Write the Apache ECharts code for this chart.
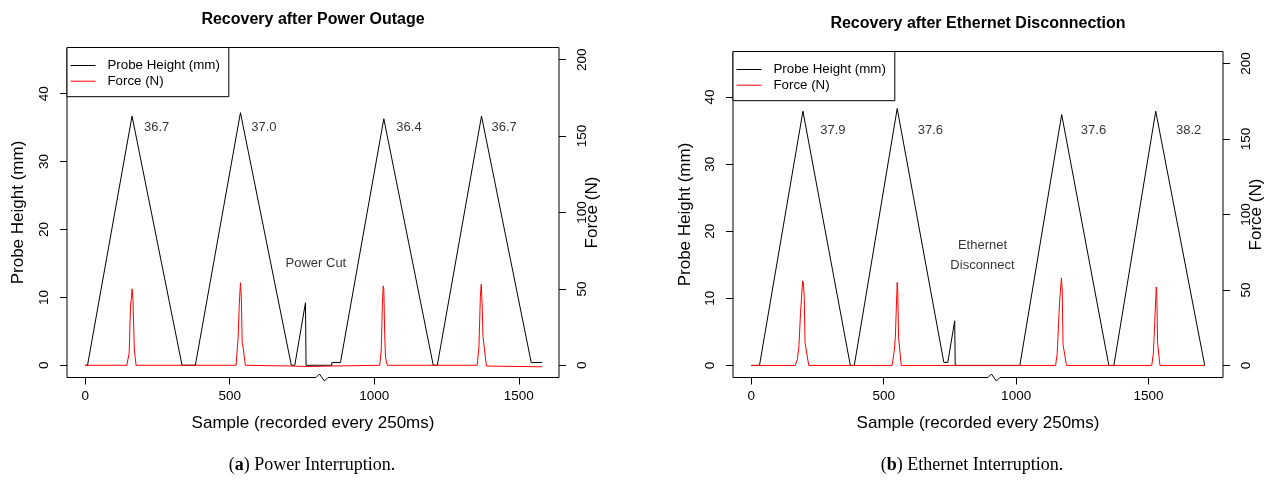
<!DOCTYPE html>
<html>
<head>
<meta charset="utf-8">
<title>Recovery after interruption</title>
<script src="https://cdn.jsdelivr.net/npm/echarts@6/dist/echarts.min.js"></script>
<style>
  html, body { margin: 0; padding: 0; background: #fff; }
  #chart { width: 1271px; height: 482px; }
</style>
</head>
<body>
<div id="chart"></div>
<script>
// (a) power interruption - probe height (mm) and force (N) against sample
var powerHeightX = [0, 8, 162, 335, 381, 537, 713, 725, 762, 764, 853, 853, 883, 1033, 1204, 1218, 1371, 1543, 1581];
var powerHeightY = [0, 0, 36.7, 0, 0, 37.2, 0, 0, 9.2, 0, 0, 0.4, 0.4, 36.3, 0, 0, 36.7, 0.4, 0.4];
var powerForceX = [0, 144, 152, 157, 160, 162, 165, 170, 176, 522, 529, 533, 537, 540, 543, 546, 554,
                   715, 770, 850, 1019, 1024, 1028, 1031, 1033, 1036, 1039, 1045,
                   1356, 1362, 1367, 1370, 1373, 1376, 1379, 1388, 1581];
var powerForceY = [0, 0, 8, 40, 44, 50, 44, 10, 0, 0, 18, 40, 54, 45, 15, 12, 0,
                   -0.5, -0.8, -0.5, 0, 10, 40, 52, 50, 20, 5, 0,
                   0, 12, 45, 53, 40, 19, 18, -0.5, -1];
var powerNoteX = [247, 618, 1120, 1449, 798];
var powerNoteY = [35, 35, 35, 35, 15];
var powerNoteText = ['36.7', '37.0', '36.4', '36.7', 'Power Cut'];
var powerBreakX = 819;

// (b) ethernet interruption
var etherHeightX = [0, 31, 195, 374, 389, 551, 727, 742, 768, 770, 1014, 1172, 1350, 1369, 1527, 1712];
var etherHeightY = [0, 0, 37.9, 0, 0, 38.3, 0.45, 0.45, 6.65, 0, 0, 37.4, 0, 0, 37.9, 0];
var etherForceX = [0, 166, 174, 180, 186, 194, 197, 200, 203, 207, 217,
                   532, 540, 544, 548, 551, 553, 556, 559, 566,
                   1149, 1155, 1158, 1164, 1171, 1174, 1177, 1180, 1190,
                   1512, 1518, 1521, 1526, 1529, 1531, 1534, 1537, 1543, 1712];
var etherForceY = [0, 0, 4, 13, 35, 56, 54, 45, 15, 14, 0,
                   0, 10, 19, 40, 55, 50, 19, 18, 0,
                   0, 8, 19, 42, 58, 50, 14, 13, 0,
                   0, 8, 19, 40, 52, 48, 15, 14, 0, 0];
var etherNoteX = [308, 676, 1292, 1651, 873];
var etherNoteY = [35, 35, 35, 35, 16.4];
var etherNoteText = ['37.9', '37.6', '37.6', '38.2', 'Ethernet\nDisconnect'];
var etherBreakX = 916;

var xTicks = [0, 500, 1000, 1500];
var heightTicks = [0, 10, 20, 30, 40];
var forceTicks = [0, 50, 100, 150, 200];
var heightRange = [-1.8, 46.8];
var forceRange = [-8, 208];
var powerXRange = [-63, 1639];
var etherXRange = [-69, 1781];

var FONT = 'Liberation Sans';

function zip(xs, ys) {
    var out = [];
    for (var i = 0; i < xs.length; i++) out.push([xs[i], ys[i]]);
    return out;
}

function notes(xs, ys, texts) {
    var out = [];
    for (var i = 0; i < xs.length; i++) out.push({ value: [xs[i], ys[i]], name: texts[i] });
    return out;
}

function plain(v) { return String(v); }

// zigzag drawn over the bottom frame, like plotrix axis.break
function breakItem(params, api) {
    var p = api.coord([api.value(0), api.value(1)]);
    var x = p[0], y = p[1];
    return {
        type: 'group',
        children: [
            { type: 'line', shape: { x1: x - 6, y1: y, x2: x + 6, y2: y }, style: { stroke: '#fff', lineWidth: 3 } },
            { type: 'polyline', shape: { points: [[x - 8, y], [x - 6, y], [x - 2.5, y - 3.5], [x + 2.5, y + 3.5], [x + 6, y], [x + 8, y]] },
              style: { stroke: '#000', lineWidth: 1, fill: null } }
        ]
    };
}

function xAxisFor(gridIndex, range) {
    return {
        type: 'value', gridIndex: gridIndex, min: range[0], max: range[1],
        name: 'Sample (recorded every 250ms)', nameLocation: 'middle', nameGap: 37.5,
        nameTextStyle: { fontFamily: FONT, fontSize: 17, color: '#000' },
        axisLine: { show: false, onZero: false },
        axisTick: { length: 7, lineStyle: { color: '#000' }, customValues: xTicks },
        axisLabel: { margin: 11.5, fontFamily: FONT, fontSize: 13.5, color: '#000', customValues: xTicks, formatter: plain },
        splitLine: { show: false }
    };
}

function yAxisFor(gridIndex, side, range, ticks, name, gap) {
    var axis = {
        type: 'value', gridIndex: gridIndex, position: side, min: range[0], max: range[1],
        name: name, nameLocation: 'middle', nameGap: gap, nameRotate: 90,
        nameTextStyle: { fontFamily: FONT, fontSize: 17, color: '#000' },
        axisLine: { show: false, onZero: false },
        axisTick: { length: 7, lineStyle: { color: '#000' }, customValues: ticks },
        axisLabel: { rotate: 90, margin: 16, fontFamily: FONT, fontSize: 13.5, color: '#000', customValues: ticks, formatter: plain },
        splitLine: { show: false }
    };
    // the force title sits over the "100" label in the original
    if (side === 'right') axis.nameMoveOverlap = false;
    return axis;
}

function panelSeries(i, heightX, heightY, forceX, forceY, noteX, noteY, noteText, breakX) {
    return [
        {
            name: 'Probe Height (mm)', type: 'line', xAxisIndex: i, yAxisIndex: 2 * i,
            data: zip(heightX, heightY), symbol: 'none', showSymbol: false, color: '#000',
            lineStyle: { width: 1, color: '#000' }, z: 2
        },
        {
            name: 'Force (N)', type: 'line', xAxisIndex: i, yAxisIndex: 2 * i + 1,
            data: zip(forceX, forceY), symbol: 'none', showSymbol: false, color: '#ff0000',
            lineStyle: { width: 1, color: '#ff0000' }, z: 3
        },
        {
            type: 'scatter', xAxisIndex: i, yAxisIndex: 2 * i,
            data: notes(noteX, noteY, noteText), symbolSize: 1,
            itemStyle: { color: 'rgba(0,0,0,0)' },
            label: {
                show: true, position: 'inside', formatter: function (p) { return p.name; },
                fontFamily: FONT, fontSize: 13, color: '#000', lineHeight: 20
            },
            silent: true, z: 4
        },
        {
            type: 'custom', xAxisIndex: i, yAxisIndex: 2 * i, clip: false,
            data: [[breakX, heightRange[0]]], renderItem: breakItem, silent: true, z: 5
        }
    ];
}

function legendFor(left, top) {
    return {
        orient: 'vertical', left: left, top: top,
        data: ['Probe Height (mm)', 'Force (N)'],
        itemWidth: 25, itemHeight: 14, itemGap: 2.7,
        padding: [11.5, 9, 9, 3],
        borderColor: '#000', borderWidth: 1, borderRadius: 0, backgroundColor: '#fff',
        itemStyle: { opacity: 0 },
        lineStyle: { width: 1 },
        textStyle: { fontFamily: FONT, fontSize: 13.3, color: '#000', padding: [0, 0, 0, 7] },
        selectedMode: false
    };
}

var chart = echarts.init(document.getElementById('chart'));
chart.setOption({
    animation: false,
    backgroundColor: '#fff',
    title: [
        { text: 'Recovery after Power Outage', left: 313, top: 12, textAlign: 'center', padding: 0,
          textStyle: { fontFamily: FONT, fontSize: 16, fontWeight: 'bold', color: '#000' } },
        { text: 'Recovery after Ethernet Disconnection', left: 978, top: 16, textAlign: 'center', padding: 0,
          textStyle: { fontFamily: FONT, fontSize: 16, fontWeight: 'bold', color: '#000' } },
        { text: '({b|a}) Power Interruption.', left: 312, top: 456, textAlign: 'center', padding: 0,
          textStyle: { fontFamily: 'Liberation Serif', fontSize: 18, fontWeight: 'normal', color: '#000',
                       rich: { b: { fontFamily: 'Liberation Serif', fontSize: 18, fontWeight: 'bold', color: '#000' } } } },
        { text: '({b|b}) Ethernet Interruption.', left: 972, top: 456, textAlign: 'center', padding: 0,
          textStyle: { fontFamily: 'Liberation Serif', fontSize: 18, fontWeight: 'normal', color: '#000',
                       rich: { b: { fontFamily: 'Liberation Serif', fontSize: 18, fontWeight: 'bold', color: '#000' } } } }
    ],
    legend: [legendFor(67, 47.5), legendFor(733, 51.5)],
    grid: [
        { left: 67, top: 47.5, width: 492, height: 330, show: true, borderColor: '#000', borderWidth: 1, backgroundColor: 'transparent' },
        { left: 733, top: 51.5, width: 490, height: 326, show: true, borderColor: '#000', borderWidth: 1, backgroundColor: 'transparent' }
    ],
    xAxis: [xAxisFor(0, powerXRange), xAxisFor(1, etherXRange)],
    yAxis: [
        yAxisFor(0, 'left', heightRange, heightTicks, 'Probe Height (mm)', 40),
        yAxisFor(0, 'right', forceRange, forceTicks, 'Force (N)', 25),
        yAxisFor(1, 'left', heightRange, heightTicks, 'Probe Height (mm)', 39),
        yAxisFor(1, 'right', forceRange, forceTicks, 'Force (N)', 25)
    ],
    series: [].concat(
        panelSeries(0, powerHeightX, powerHeightY, powerForceX, powerForceY, powerNoteX, powerNoteY, powerNoteText, powerBreakX),
        panelSeries(1, etherHeightX, etherHeightY, etherForceX, etherForceY, etherNoteX, etherNoteY, etherNoteText, etherBreakX)
    )
});
</script>
</body>
</html>
